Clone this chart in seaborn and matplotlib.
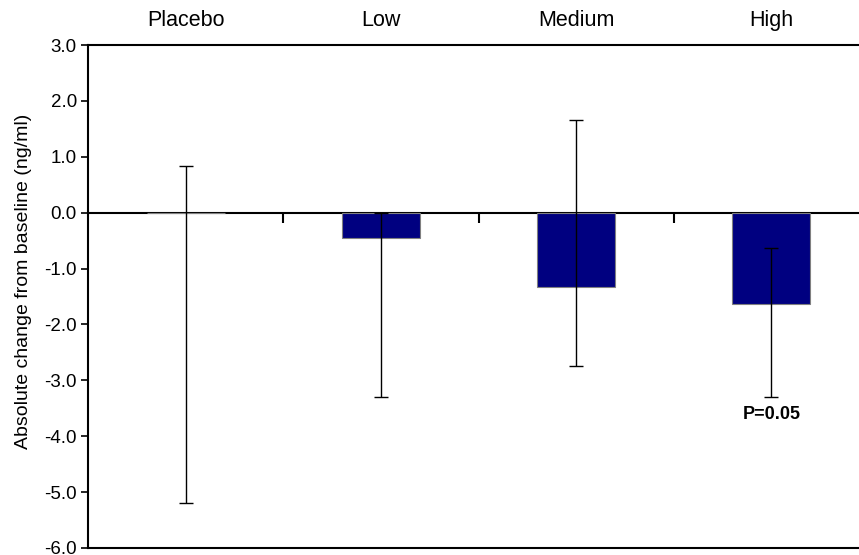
import matplotlib
matplotlib.use("Agg")
import matplotlib.pyplot as plt
import seaborn as sns
import pandas as pd
import numpy as np

categories = ["Placebo", "Low", "Medium", "High"]
mean_change = [0.0, -0.46, -1.33, -1.64]
ci_lower = [-5.19, -3.30, -2.75, -3.30]
ci_upper = [0.83, 0.0, 1.66, -0.64]
y_ticks = [3.0, 2.0, 1.0, 0.0, -1.0, -2.0, -3.0, -4.0, -5.0, -6.0]
annotation = "P=0.05"

sns.set_theme(style="white")
plt.rcParams["font.family"] = ["Liberation Sans", "DejaVu Sans"]
plt.rcParams["text.color"] = "black"
plt.rcParams["axes.labelcolor"] = "black"
plt.rcParams["xtick.color"] = "black"
plt.rcParams["ytick.color"] = "black"

df = pd.DataFrame({"group": categories, "change": mean_change})

fig = plt.figure(figsize=(8.59, 5.55), dpi=100)
ax = fig.add_axes([88 / 859, 7 / 555, 781 / 859, 503 / 555])

sns.barplot(data=df, x="group", y="change", ax=ax, color="#000080",
            saturation=1, width=0.40, edgecolor="#808080", linewidth=0.8,
            errorbar=None, zorder=2)

x = np.arange(len(categories))
mean_arr = np.array(mean_change)
yerr = np.vstack([mean_arr - np.array(ci_lower), np.array(ci_upper) - mean_arr])
ax.errorbar(x, mean_arr, yerr=yerr, fmt="none", ecolor="black",
            elinewidth=1.0, capsize=5, capthick=1.0, zorder=3)

ax.set_ylim(-6, 3)
ax.set_xlim(-0.5, len(categories) - 0.5)
ax.set_yticks(y_ticks)
ax.set_yticklabels([f"{v:.1f}" for v in y_ticks])
ax.tick_params(axis="y", direction="out", length=5, width=1.2, colors="black",
               labelsize=13.5, pad=3, left=True)
ax.set_ylabel("Absolute change from baseline (ng/ml)", fontsize=14,
              color="black")
ax.yaxis.set_label_coords(-0.072, 0.531)
ax.set_xlabel("")

ax.xaxis.tick_top()
ax.tick_params(axis="x", length=0, labelsize=15.5, pad=10, top=False,
               bottom=False, labelcolor="black")

for side in ["left", "top", "bottom"]:
    ax.spines[side].set_visible(True)
    ax.spines[side].set_color("black")
    ax.spines[side].set_linewidth(1.5)
ax.spines["right"].set_visible(False)

# zero line with boundary tick marks pointing down
sec = ax.secondary_xaxis(6 / 9)
sec.set_xticks([0.5, 1.5, 2.5])
sec.set_xticklabels([])
sec.xaxis.set_ticks_position("bottom")
sec.tick_params(axis="x", which="both", direction="out", length=7, width=1.5,
                color="black", top=False, bottom=True)
for s in sec.spines.values():
    s.set_linewidth(1.5)
    s.set_color("black")
    s.set_zorder(4)

ax.text(3, -3.62, annotation, ha="center", va="center", fontsize=13,
        fontweight="bold", color="black")

ax.grid(False)
fig.savefig("out.png", dpi=100)
